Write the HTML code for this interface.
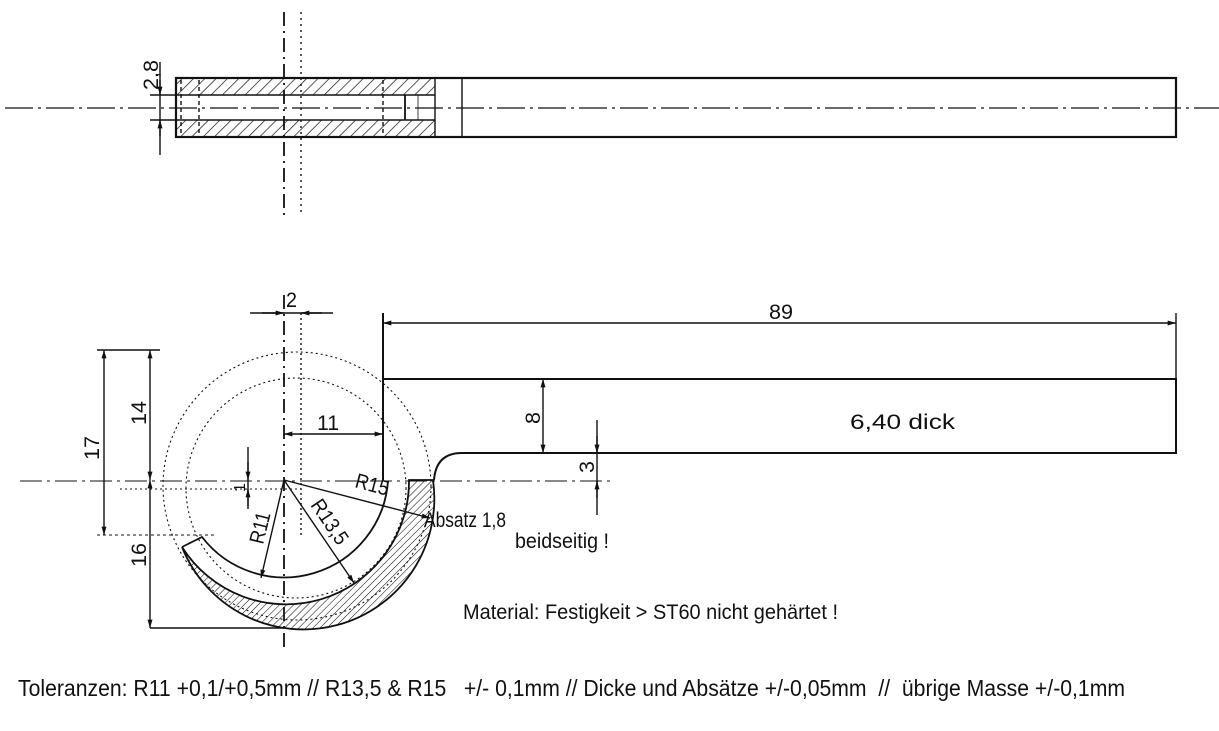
<!DOCTYPE html>
<html><head><meta charset="utf-8"><style>
html,body{margin:0;padding:0;background:#fff}
svg{display:block}
text{font-family:"Liberation Sans",sans-serif;fill:#111}
</style></head><body>
<svg width="1219" height="731" viewBox="0 0 1219 731" xmlns="http://www.w3.org/2000/svg">
<defs>
<pattern id="h1" patternUnits="userSpaceOnUse" width="8" height="8" patternTransform="rotate(45)">
<line x1="0" y1="0" x2="0" y2="8" stroke="#111" stroke-width="1.4"/></pattern>
<pattern id="h2" patternUnits="userSpaceOnUse" width="5" height="5" patternTransform="rotate(45)">
<line x1="0" y1="0" x2="0" y2="5" stroke="#111" stroke-width="1.1"/></pattern>
<marker id="a" viewBox="0 0 10 6" refX="10" refY="3" markerWidth="11" markerHeight="5" orient="auto-start-reverse" markerUnits="userSpaceOnUse"><path d="M0,0L10,3L0,6z" fill="#111"/></marker>
</defs>
<g stroke="#111" fill="none" stroke-width="1.4">
<!-- TOP VIEW -->
<line x1="5" y1="108" x2="1219" y2="108" stroke-width="1.2" stroke-dasharray="28,5,3,5"/>
<rect x="176" y="78" width="259" height="17" fill="url(#h1)" stroke="none"/>
<rect x="176" y="120" width="259" height="17" fill="url(#h1)" stroke="none"/>
<rect x="176" y="78" width="1000" height="59" stroke-width="2.2"/>
<line x1="435" y1="78" x2="435" y2="137"/>
<line x1="462" y1="78" x2="462" y2="137"/>
<line x1="150" y1="95" x2="435" y2="95"/>
<line x1="150" y1="120" x2="435" y2="120"/>
<line x1="181" y1="80" x2="181" y2="135" stroke-dasharray="4,3"/>
<line x1="199" y1="80" x2="199" y2="135" stroke-dasharray="4,3"/>
<line x1="383" y1="80" x2="383" y2="135" stroke-dasharray="4,3"/>
<line x1="405" y1="95" x2="405" y2="120" stroke-width="1.8"/>
<line x1="418" y1="95" x2="418" y2="120" stroke-width="0.8"/>
<line x1="284" y1="12" x2="284" y2="220" stroke-width="1.8" stroke-dasharray="14,5,2,5"/>
<line x1="301" y1="12" x2="301" y2="212" stroke-dasharray="2,4"/>
<line x1="160" y1="62" x2="160" y2="155"/>
<line x1="160" y1="80" x2="160" y2="95" marker-end="url(#a)"/>
<line x1="160" y1="136" x2="160" y2="120" marker-end="url(#a)"/>

<!-- FRONT VIEW -->
<line x1="20" y1="481" x2="615" y2="481" stroke-width="1.1" stroke-dasharray="22,5,3,5"/>
<line x1="284" y1="295" x2="284" y2="650" stroke-width="1.8" stroke-dasharray="14,5,2,5"/>
<line x1="301" y1="313" x2="301" y2="538" stroke-dasharray="2,3"/>
<circle cx="297" cy="486" r="134" stroke-dasharray="2,3" stroke-width="1.1"/>
<circle cx="296" cy="488" r="110" stroke-dasharray="2,3" stroke-width="1.1"/>
<line x1="120" y1="489" x2="300" y2="489" stroke-dasharray="2,3" stroke-width="1.1"/>
<line x1="97" y1="535" x2="215" y2="535" stroke-dasharray="3,3" stroke-width="1.1"/>
<path d="M433,480 A130.8,130.8 0 0 1 182,547 A123,123 0 0 0 409,480 Z" fill="url(#h2)" stroke-width="1.8"/>
<path d="M182,547 L202,537 A104,104 0 0 0 388,481" stroke-width="1.8"/>
<path d="M383,313 L383,480" stroke-width="2"/>
<path d="M383,379 L1176,379 L1176,453 L462,453 Q436,453 434,480" stroke-width="2"/>
<line x1="1176" y1="313" x2="1176" y2="379"/>
<line x1="383" y1="323" x2="1176" y2="323" marker-start="url(#a)" marker-end="url(#a)"/>
<line x1="543" y1="379" x2="543" y2="453" marker-start="url(#a)" marker-end="url(#a)"/>
<line x1="597" y1="420" x2="597" y2="515"/>
<line x1="597" y1="436" x2="597" y2="453" marker-end="url(#a)"/>
<line x1="597" y1="498" x2="597" y2="481" marker-end="url(#a)"/>
<line x1="250" y1="313" x2="333" y2="313"/>
<line x1="262" y1="313" x2="284" y2="313" marker-end="url(#a)"/>
<line x1="322" y1="313" x2="301" y2="313" marker-end="url(#a)"/>
<line x1="284" y1="434" x2="383" y2="434" marker-start="url(#a)" marker-end="url(#a)"/>
<line x1="248" y1="447" x2="248" y2="509"/>
<line x1="248" y1="462" x2="248" y2="480" marker-end="url(#a)"/>
<line x1="248" y1="506" x2="248" y2="489" marker-end="url(#a)"/>
<line x1="97" y1="350" x2="160" y2="350"/>
<line x1="104" y1="350" x2="104" y2="535" marker-start="url(#a)" marker-end="url(#a)"/>
<line x1="150" y1="350" x2="150" y2="480" marker-start="url(#a)" marker-end="url(#a)"/>
<line x1="150" y1="480" x2="150" y2="628" marker-start="url(#a)" marker-end="url(#a)"/>
<line x1="150" y1="628" x2="284" y2="628"/>
<line x1="284" y1="480" x2="430" y2="518" marker-end="url(#a)"/>
<line x1="284" y1="480" x2="354" y2="583" marker-end="url(#a)"/>
<line x1="284" y1="480" x2="261" y2="578" marker-end="url(#a)"/>
</g>
<g font-size="21">
<text transform="translate(158,90) rotate(-90)" textLength="30" lengthAdjust="spacingAndGlyphs">2,8</text>
<text x="286" y="307" textLength="11" lengthAdjust="spacingAndGlyphs">2</text>
<text x="769" y="319" textLength="24" lengthAdjust="spacingAndGlyphs">89</text>
<text x="317" y="430" textLength="22" lengthAdjust="spacingAndGlyphs">11</text>
<text x="850" y="429" textLength="105" lengthAdjust="spacingAndGlyphs">6,40 dick</text>
<text transform="translate(540,424) rotate(-90)" textLength="12" lengthAdjust="spacingAndGlyphs">8</text>
<text transform="translate(594,473) rotate(-90)" textLength="12" lengthAdjust="spacingAndGlyphs">3</text>
<text transform="translate(245,492) rotate(-90)" font-size="16">1</text>
<text transform="translate(99,460) rotate(-90)" textLength="24" lengthAdjust="spacingAndGlyphs">17</text>
<text transform="translate(146,425) rotate(-90)" textLength="24" lengthAdjust="spacingAndGlyphs">14</text>
<text transform="translate(146,567) rotate(-90)" textLength="24" lengthAdjust="spacingAndGlyphs">16</text>
<text transform="translate(354,487) rotate(15)" textLength="34" lengthAdjust="spacingAndGlyphs">R15</text>
<text transform="translate(310,505) rotate(56)" textLength="50" lengthAdjust="spacingAndGlyphs">R13,5</text>
<text transform="translate(263,545) rotate(-76)" textLength="32" lengthAdjust="spacingAndGlyphs">R11</text>
<text x="424" y="527" textLength="82" lengthAdjust="spacingAndGlyphs">Absatz 1,8</text>
<text x="515" y="548" textLength="94" lengthAdjust="spacingAndGlyphs">beidseitig !</text>
<text x="463" y="619" textLength="375" lengthAdjust="spacingAndGlyphs">Material: Festigkeit &gt; ST60 nicht gehärtet !</text>
<text x="18" y="696" font-size="23" textLength="1107" lengthAdjust="spacingAndGlyphs">Toleranzen: R11 +0,1/+0,5mm // R13,5 &amp; R15 &#160; +/- 0,1mm // Dicke und Absätze +/-0,05mm &#160;// &#160;übrige Masse +/-0,1mm</text>
</g>
</svg>
</body></html>
